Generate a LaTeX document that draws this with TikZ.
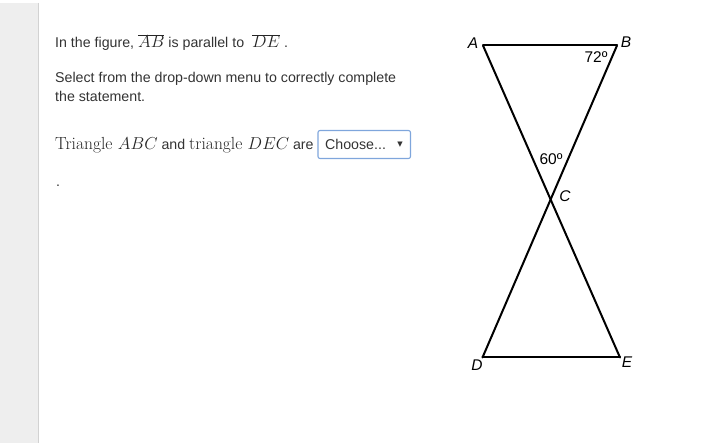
\documentclass[tikz,border=0pt]{standalone}
\usepackage{fontspec}
\newfontfamily\arial{Liberation Sans}
\newfontfamily\symfont{DejaVu Sans}
\usetikzlibrary{positioning}
\definecolor{sidegray}{HTML}{EEEEEE}
\definecolor{sideline}{HTML}{D2D2D2}
\definecolor{txtgray}{HTML}{333333}
\definecolor{menublue}{HTML}{7FA6DC}
\newcommand{\vertex}[3]{%
 \coordinate ({#1}) at ({#2}); %
 \node[vlabel] ({#1}lab) at ({#3}) {#1};%
}

\begin{document}
\begin{tikzpicture}[x=1pt,y=-1pt,
  every node/.style={inner sep=0pt,text=txtgray},
  txt/.style={anchor=base west,font=\arial\fontsize{14.2}{16}\selectfont},
  serif/.style={font=\rmfamily\fontsize{17.5}{16}\selectfont},
  vlabel/.style={font=\arial\itshape\fontsize{15.5}{16}\selectfont,text=black},
  seg/.style={line width=2pt,line cap=round,line join=round}]
   \useasboundingbox (0,0) rectangle (716,443);
   \fill[sidegray] (0,3) rectangle (38,443);
   \draw[sideline] (38,3) -- (38,443);
   \node[txt] (l1) at (55,48) {In the figure, {\fontsize{17}{16}\selectfont\color{black!85}$\overline{AB}$} is parallel to \ {\fontsize{17}{16}\selectfont\color{black!85}$\overline{DE}$} .};
   \node[txt] (l2) at (55,82.5) {Select from the drop-down menu to correctly complete};
   \node[txt] (l3) at (55,101.5) {the statement.};
   \node[txt] (l4) at (55,150) {{\rmfamily\fontsize{17.5}{16}\selectfont\color{black!85}Triangle $ABC$} and {\rmfamily\fontsize{17.5}{16}\selectfont\color{black!85}triangle $DEC$} are};
   \node[txt] (dot) at (56,187) {.};
   \draw[menublue,line width=1.1pt,rounded corners=2pt] (318,130.5) rectangle (410.5,158.5);
   \node[txt] (menu) at (325,149.5) {Choose...};
   \node[font=\symfont\fontsize{7}{7}\selectfont] (tri) at (400,144.5) {▼};
   \vertex{A}{483,45.5}{473,43}
   \vertex{B}{617,45.5}{626,42}
   \vertex{D}{482.5,357.5}{477,365}
   \vertex{E}{620,357.5}{627,362}
   \coordinate (C) at (550.5,201);
   \node[vlabel] (Clab) at (565,196) {C};
   \draw[seg] (A) -- (B);
   \draw[seg] (D) -- (E);
   \draw[seg] (A) -- (E);
   \draw[seg] (B) -- (D);
   \node[vlabel,font=\arial\fontsize{15.5}{16}\selectfont] (angB) at (596,57) {72º};
   \node[vlabel,font=\arial\fontsize{15.5}{16}\selectfont] (angC) at (551,159) {60º};
\end{tikzpicture}
\end{document}
